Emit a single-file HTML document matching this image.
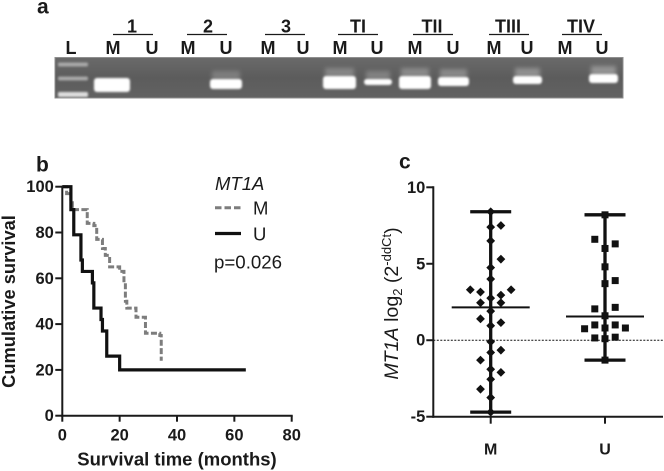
<!DOCTYPE html>
<html lang="en">
<head>
<meta charset="utf-8">
<title>MT1A methylation figure</title>
<style>
html,body{margin:0;padding:0;background:#fff;width:664px;height:471px;overflow:hidden}
svg{display:block;font-family:"Liberation Sans",sans-serif;filter:blur(0.35px)}
</style>
</head>
<body>
<svg id="fig" xmlns="http://www.w3.org/2000/svg" width="664" height="471" viewBox="0 0 664 471">
  <defs>
    <filter id="blurBand" x="-30%" y="-60%" width="160%" height="220%"><feGaussianBlur stdDeviation="1.1"/></filter>
    <filter id="blurGlow" x="-30%" y="-100%" width="160%" height="300%"><feGaussianBlur stdDeviation="2.2"/></filter>
    <linearGradient id="gelGrad" x1="0" y1="0" x2="0" y2="1">
      <stop offset="0" stop-color="#6a6a6a"/>
      <stop offset="0.5" stop-color="#5c5c5c"/>
      <stop offset="1" stop-color="#626262"/>
    </linearGradient>
  </defs>

  <g id="panel-a"></g>
  <g id="panel-b"></g>
  <g id="panel-c"></g>
</svg>

<script>
// ---- Panel a data ----
var gelGroups = ['1', '2', '3', 'TI', 'TII', 'TIII', 'TIV'];
var gelLaneLetters = ['M', 'U'];

// ---- Panel b data ----
var survivalTicksX = [0, 20, 40, 60, 80];
var survivalTicksY = [0, 20, 40, 60, 80, 100];
var mTimes =    [0, 1.5, 3, 3.5, 6, 8.7, 11, 12, 14, 15, 16.5, 20, 21.5, 22, 22.5, 25.7, 29, 34, 34.5];
var mSurvival = [100, 97, 93, 90, 90, 84, 83, 77, 73, 70, 65, 63, 58, 50, 47, 43, 36, 35, 24];
var uTimes =    [0, 3, 4, 6.5, 7, 10.5, 11, 13.5, 14, 15.5, 20, 64];
var uSurvival = [100, 90, 79, 68, 63, 58, 47, 42, 37, 26, 20, 20];

// ---- Panel c data ----
var exprTicksY = [-5, 0, 5, 10];
var exprGroups = ['M', 'U'];
var mValues =  [8.4, 7.4, 6.5, 4.75, 4.0, 2.75, 1.9, 0.95, -0.1, -0.8, -1.9, -2.55, -3.75, -4.7,
                7.5, 5.3, 2.95, 2.45, 1.15, -0.65, -2.1,
                3.15, 2.45, 1.4, -1.3, -3.2,
                3.3, 3.3];
var mColumns = [0, 0, 0, 0, 0, 0, 0, 0, 0, 0, 0, 0, 0, 0,
                1, 1, 1, 1, 1, 1, 1,
                -1, -1, -1, -1, -1,
                2, -2];
var uValues =  [8.2, 6.0, 4.8, 3.7, 1.6, 0.8, 0.1, -1.3,
                6.6, 2.05, 1.0, 0.15,
                6.3, 3.9, 2.15, 1.0, 0.2,
                0.75, 0.8];
var uColumns = [0, 0, 0, 0, 0, 0, 0, 0,
                -1, -1, -1, -1,
                1, 1, 1, 1, 1,
                -2, 2];
var exprMeans = [2.15, 1.55];
var exprMax = [8.4, 8.2];
var exprMin = [-4.7, -1.3];

var NS = 'http://www.w3.org/2000/svg';
function mk(parent, tag, attrs, text) {
  var el = document.createElementNS(NS, tag);
  for (var k in attrs) el.setAttribute(k, attrs[k]);
  if (text !== undefined) el.textContent = text;
  parent.appendChild(el);
  return el;
}

// ========== Panel a ==========
(function () {
  var g = document.getElementById('panel-a');
  var INK = '#1a1a1a';
  var t = mk(g, 'text', {x: 37, y: 13.5, 'font-size': 21, 'font-weight': 700, fill: INK}, 'a');
  
  

  var gel = mk(g, 'rect', {x: 55, y: 57.5, width: 568, height: 40.5, fill: 'url(#gelGrad)', stroke: '#8e8e8e', 'stroke-width': 1});
  
  

  // ladder
  [64.5, 78.5, 94].forEach(function (y, i) {
    var b = mk(g, 'rect', {x: 58, y: y - 2, width: 30, height: i === 2 ? 5 : 4, rx: 1.5, fill: i === 2 ? '#dedede' : '#a8a8a8', filter: 'url(#blurBand)'});
    
    
  });

  // [x0, x1, y0, y1, glow]
  var bands = [
    [94, 130, 78, 92, 0],
    [210, 242, 79, 89, 0.45],
    [323, 356, 76, 89, 0.55],
    [364, 392, 79, 85, 0.5],
    [399, 431, 76, 89, 0.6],
    [438, 469, 77, 86, 0.6],
    [513, 542, 76, 84, 0.7],
    [589, 618, 74, 83, 0.75]
  ];
  bands.forEach(function (b) {
    if (b[4]) {
      mk(g, 'rect', {x: b[0] + 2, y: b[2] - 8, width: b[1] - b[0] - 4, height: 9, fill: '#a4a4a4', opacity: b[4], filter: 'url(#blurGlow)'});
    }
    var r = mk(g, 'rect', {x: b[0], y: b[2], width: b[1] - b[0], height: b[3] - b[2], rx: 3, fill: '#fff', filter: 'url(#blurBand)'});
    
    
  });

  // L label
  var lab = mk(g, 'text', {x: 71, y: 54, 'font-size': 18, 'font-weight': 700, 'text-anchor': 'middle', fill: INK}, 'L');
  
  

  var groupCenters = [132, 208, 286, 358, 432, 508, 581];
  var groupBars = [[113, 153], [187, 227], [265, 305], [338, 378], [413, 453], [489, 529], [562, 602]];
  var laneCenters = [[113, 152], [188, 226], [268, 303], [340, 377], [415, 453], [494, 527], [565, 602]];
  gelGroups.forEach(function (name, i) {
    var tx = mk(g, 'text', {x: groupCenters[i], y: 32.5, 'font-size': 18, 'font-weight': 700, 'text-anchor': 'middle', fill: INK}, name);
    
    
    var ln = mk(g, 'line', {x1: groupBars[i][0], x2: groupBars[i][1], y1: 34.5, y2: 34.5, stroke: INK, 'stroke-width': 1.3});
    
    
    gelLaneLetters.forEach(function (letter, j) {
      var lt = mk(g, 'text', {x: laneCenters[i][j], y: 54, 'font-size': 18, 'font-weight': 700, 'text-anchor': 'middle', fill: INK}, letter);
      
      
    });
  });
})();

// ========== Panel b ==========
(function () {
  var g = document.getElementById('panel-b');
  var INK = '#1a1a1a';
  var x0 = 62.3, x1 = 291.7, y0 = 415.7, y1 = 186.7;
  function sx(t) { return x0 + (t / 80) * (x1 - x0); }
  function sy(v) { return y0 - (v / 100) * (y0 - y1); }

  var pl = mk(g, 'text', {x: 36, y: 171.5, 'font-size': 21, 'font-weight': 700, fill: INK}, 'b');
  
  

  function stepPath(ts, vs) {
    var d = 'M' + sx(ts[0]) + ' ' + sy(vs[0]);
    for (var i = 1; i < ts.length; i++) {
      d += ' H' + sx(ts[i]) + ' V' + sy(vs[i]);
    }
    return d;
  }
  var mPath = mk(g, 'path', {d: stepPath(mTimes, mSurvival), fill: 'none', stroke: '#7d7d7d', 'stroke-width': 3, 'stroke-dasharray': '6 2.4'});
  
  
  var uPath = mk(g, 'path', {d: stepPath(uTimes, uSurvival), fill: 'none', stroke: '#111', 'stroke-width': 3.2});
  
  

  var axisY = mk(g, 'line', {x1: x0, x2: x0, y1: y1 - 1, y2: y0 + 1, stroke: INK, 'stroke-width': 2});
  
  
  var axisX = mk(g, 'line', {x1: x0 - 1, x2: x1 + 1, y1: y0, y2: y0, stroke: INK, 'stroke-width': 2});
  
  

  survivalTicksX.forEach(function (t) {
    var tick = mk(g, 'line', {x1: sx(t), x2: sx(t), y1: y0, y2: y0 + 6, stroke: INK, 'stroke-width': 2});
    
    
    var lab = mk(g, 'text', {x: sx(t), y: 440.5, 'font-size': 16.5, 'font-weight': 700, 'text-anchor': 'middle', fill: INK}, t);
    
    
  });
  survivalTicksY.forEach(function (v) {
    var tick = mk(g, 'line', {x1: x0 - 7, x2: x0, y1: sy(v), y2: sy(v), stroke: INK, 'stroke-width': 2});
    
    
    var lab = mk(g, 'text', {x: x0 - 8.5, y: sy(v) + 5.5, 'font-size': 16.5, 'font-weight': 700, 'text-anchor': 'end', fill: INK}, v);
    
    
  });

  var xt = mk(g, 'text', {x: 177, y: 465.5, 'font-size': 18.5, 'font-weight': 700, 'text-anchor': 'middle', fill: INK}, 'Survival time (months)');
  
  
  var yt = mk(g, 'text', {transform: 'translate(15 301.5) rotate(-90)', 'font-size': 18.3, 'font-weight': 700, 'text-anchor': 'middle', fill: INK}, 'Cumulative survival');
  
  

  var lg = mk(g, 'text', {x: 215, y: 190, 'font-size': 18.5, 'font-style': 'italic', fill: INK}, 'MT1A');
  
  
  var l1 = mk(g, 'line', {x1: 215, x2: 241, y1: 207.7, y2: 207.7, stroke: '#7d7d7d', 'stroke-width': 3, 'stroke-dasharray': '6.5 3'});
  
  
  var l1t = mk(g, 'text', {x: 253, y: 214.5, 'font-size': 18.5, fill: INK}, 'M');
  
  
  var l2 = mk(g, 'line', {x1: 215, x2: 241, y1: 233.5, y2: 233.5, stroke: '#111', 'stroke-width': 3.2});
  
  
  var l2t = mk(g, 'text', {x: 253, y: 240.5, 'font-size': 18.5, fill: INK}, 'U');
  
  
  var p = mk(g, 'text', {x: 214, y: 268.5, 'font-size': 18.7, fill: INK}, 'p=0.026');
  
  
})();

// ========== Panel c ==========
(function () {
  var g = document.getElementById('panel-c');
  var INK = '#1a1a1a';
  var axisXpos = 433.3, right = 663, yTop = 187.3, yBot = 416.7;
  var groupX = [490.7, 605];
  var colStep = 10.2;
  function sy(v) { return yBot - ((v + 5) / 15) * (yBot - yTop); }

  var pl = mk(g, 'text', {x: 399, y: 168.5, 'font-size': 21, 'font-weight': 700, fill: INK}, 'c');
  
  

  var zero = mk(g, 'line', {x1: axisXpos, x2: right, y1: sy(0), y2: sy(0), stroke: '#111', 'stroke-width': 1, 'stroke-dasharray': '2 1.5'});
  
  

  exprGroups.forEach(function (name, i) {
    var cx = groupX[i];
    var w = mk(g, 'line', {x1: cx, x2: cx, y1: sy(exprMax[i]), y2: sy(exprMin[i]), stroke: '#111', 'stroke-width': 3.3});
    
    
    [exprMax[i], exprMin[i]].forEach(function (v) {
      var c = mk(g, 'line', {x1: cx - 20.5, x2: cx + 20.5, y1: sy(v), y2: sy(v), stroke: '#111', 'stroke-width': 3.3});
      
      
    });
    var m = mk(g, 'line', {x1: cx - 39, x2: cx + 39, y1: sy(exprMeans[i]), y2: sy(exprMeans[i]), stroke: '#111', 'stroke-width': 2});
    
    
  });

  mValues.forEach(function (v, i) {
    var cx = groupX[0] + mColumns[i] * colStep, cy = sy(v), r = 4.4;
    var d = mk(g, 'polygon', {points: [cx, cy - r, cx + r, cy, cx, cy + r, cx - r, cy].join(' '), fill: '#111'});
    
    
  });
  uValues.forEach(function (v, i) {
    var cx = groupX[1] + uColumns[i] * colStep, cy = sy(v), s = 7;
    var d = mk(g, 'rect', {x: cx - s / 2, y: cy - s / 2, width: s, height: s, fill: '#111'});
    
    
  });

  var axisY = mk(g, 'line', {x1: axisXpos, x2: axisXpos, y1: yTop - 1, y2: yBot + 1, stroke: INK, 'stroke-width': 2});
  
  
  var axisX = mk(g, 'line', {x1: axisXpos - 1, x2: right, y1: yBot, y2: yBot, stroke: INK, 'stroke-width': 2});
  
  

  exprTicksY.forEach(function (v) {
    var tick = mk(g, 'line', {x1: axisXpos - 7, x2: axisXpos, y1: sy(v), y2: sy(v), stroke: INK, 'stroke-width': 2});
    
    
    var lab = mk(g, 'text', {x: axisXpos - 8, y: sy(v) + 5.5, 'font-size': 16.5, 'font-weight': 700, 'text-anchor': 'end', fill: INK}, v);
    
    
  });
  exprGroups.forEach(function (name, i) {
    var tick = mk(g, 'line', {x1: groupX[i], x2: groupX[i], y1: yBot, y2: yBot + 7, stroke: INK, 'stroke-width': 2});
    
    
    var lab = mk(g, 'text', {x: groupX[i], y: 454.5, 'font-size': 16, 'font-weight': 700, 'text-anchor': 'middle', fill: INK}, name);
    
    
  });

  var yt = mk(g, 'text', {transform: 'translate(398 303.5) rotate(-90)', 'font-size': 19.6, fill: INK, 'text-anchor': 'middle'});
  
  
  mk(yt, 'tspan', {'font-style': 'italic'}, 'MT1A');
  mk(yt, 'tspan', {}, ' log');
  mk(yt, 'tspan', {'font-size': 13, dy: 4}, '2');
  mk(yt, 'tspan', {dy: -4}, ' (2');
  mk(yt, 'tspan', {'font-size': 13, dy: -7}, '-ddCt');
  mk(yt, 'tspan', {dy: 7}, ')');
})();
</script>
</body>
</html>
